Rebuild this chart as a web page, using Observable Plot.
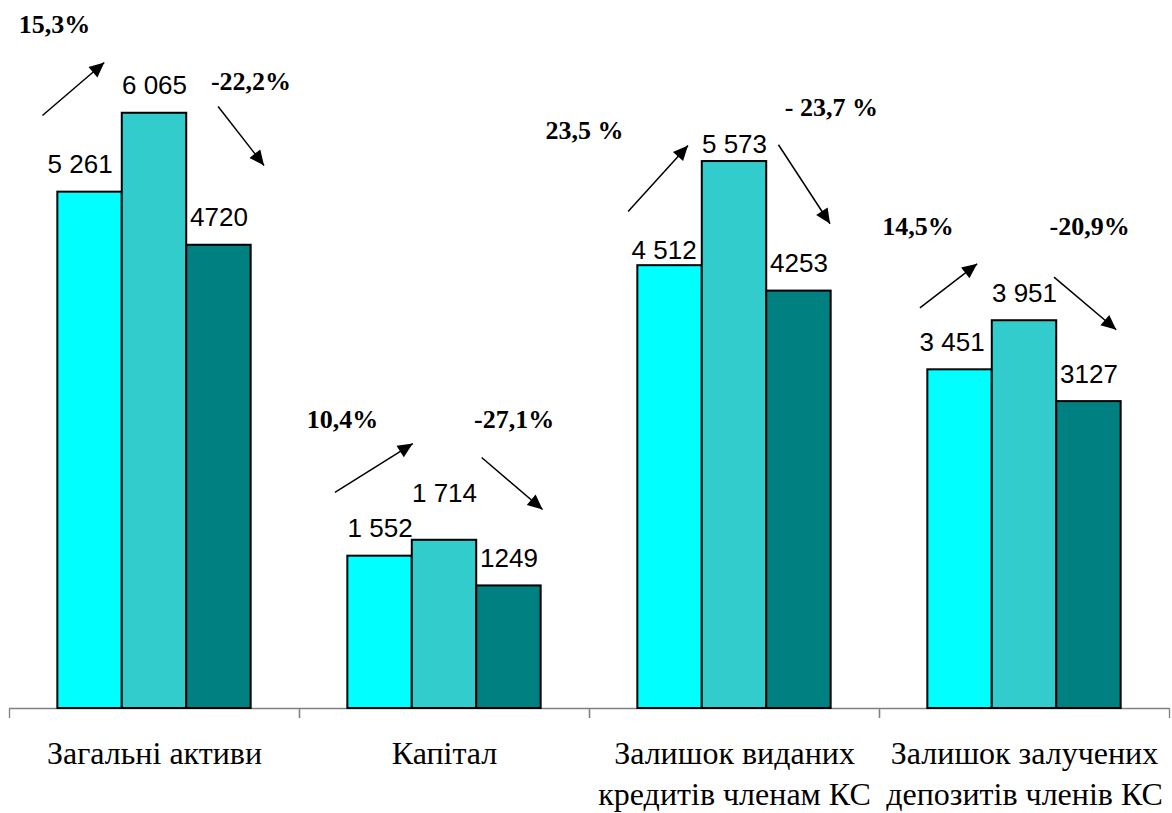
<!DOCTYPE html>
<html>
<head>
<meta charset="utf-8">
<script src="https://cdn.jsdelivr.net/npm/d3@7"></script>
<script src="https://cdn.jsdelivr.net/npm/@observablehq/plot@0.6"></script>
<style>
  html, body { margin: 0; padding: 0; background: #fff; }
  #chart svg { display: block; }
</style>
</head>
<body>
<div id="chart"></div>
<script>
// ---------- data ----------
const categories = [
  "Загальні активи",
  "Капітал",
  "Залишок виданих кредитів членам КС",
  "Залишок залучених депозитів членів КС"
];
const categoryLabels = [
  "Загальні активи",
  "Капітал",
  "Залишок виданих\nкредитів членам КС",
  "Залишок залучених\nдепозитів членів КС"
];
const series = ["Період 1", "Період 2", "Період 3"];
const values1 = [5261, 1552, 4512, 3451];
const values2 = [6065, 1714, 5573, 3951];
const values3 = [4720, 1249, 4253, 3127];
const valueLabels1 = ["5 261", "1 552", "4 512", "3 451"];
const valueLabels2 = ["6 065", "1 714", "5 573", "3 951"];
const valueLabels3 = ["4720", "1249", "4253", "3127"];
const growthLabels = ["15,3%", "10,4%", "23,5 %", "14,5%"];
const declineLabels = ["-22,2%", "-27,1%", "- 23,7 %", "-20,9%"];

// ---------- annotation layout (x in bar-slot units within a group, y in value units) ----------
const upArrows = [[0.511, 6042, 1.471, 6582], [0.550, 2201, 1.758, 2700], [0.599, 5064, 1.529, 5737], [0.627, 4083, 1.515, 4531]];
const downArrows = [[3.237, 6134, 3.950, 5533], [2.827, 2557, 3.772, 2028], [2.932, 5744, 3.733, 4939], [2.708, 4395, 3.674, 3859]];
const growthPos = [[0.697, 6878], [0.669, 2853], [-0.077, 5798], [0.596, 4820]];
const declinePos = [[3.748, 6297], [3.330, 2853], [3.753, 6042], [3.260, 4820]];
// value-label nudges: [series][category], x in slot units, y in value units
const labelShiftX = [[-0.155, 0, -0.093, -0.124], [0, 0, 0, 0], [0, 0, 0, 0]];
const labelShiftY = [[0, 0, -122, 0], [0, 194, -102, 0], [0, 0, 0, 0]];

// ---------- styles ----------
const colors = ["#00FFFF", "#33CCCC", "#008080"];
const slotOffset = 0.75;
const xDomain = [0, series.length + 2 * slotOffset];
const serifFont = "Liberation Serif";
const sansFont = "Liberation Sans";

// ---------- tables built from the arrays ----------
const allValues = [values1, values2, values3];
const allLabels = [valueLabels1, valueLabels2, valueLabels3];
const rows = [];
categories.forEach((c, i) => {
  series.forEach((s, j) => {
    rows.push({
      category: c, series: s, slot: j, value: allValues[j][i], label: allLabels[j][i],
      sx: labelShiftX[j][i], sy: labelShiftY[j][i]
    });
  });
});
const arrowRows = [];
const pctRows = [];
categories.forEach((c, i) => {
  for (const a of [upArrows[i], downArrows[i]]) {
    arrowRows.push({category: c, x1: a[0], y1: a[1], x2: a[2], y2: a[3]});
  }
  pctRows.push({category: c, x: growthPos[i][0], y: growthPos[i][1], text: growthLabels[i]});
  pctRows.push({category: c, x: declinePos[i][0], y: declinePos[i][1], text: declineLabels[i]});
});
const catRows = categories.map((c, i) => ({category: c, label: categoryLabels[i]}));

const plot = Plot.plot({
  width: 1172,
  height: 813,
  marginLeft: 8,
  marginRight: 2,
  marginTop: 21,
  marginBottom: 105,
  style: {background: "#fff", overflow: "visible"},
  fx: {domain: categories, padding: 0, axis: null},
  x: {domain: xDomain, axis: null},
  y: {domain: [0, 7000], axis: null},
  color: {domain: series, range: colors},
  marks: [
    Plot.ruleY([0], {stroke: "#808080", strokeWidth: 1.3}),
    Plot.axisX({ticks: xDomain, tickSize: 10, tickFormat: () => "", stroke: "#808080", strokeWidth: 1.3, label: null}),
    Plot.rectY(rows, {
      fx: "category",
      x1: d => d.slot + slotOffset,
      x2: d => d.slot + slotOffset + 1,
      y: "value",
      fill: "series",
      stroke: "black",
      strokeWidth: 2
    }),
    Plot.text(rows, {
      fx: "category",
      x: d => d.slot + slotOffset + 0.5 + d.sx,
      y: d => d.value + d.sy,
      text: "label",
      lineAnchor: "bottom",
      dy: -19,
      fontSize: 26,
      fontFamily: sansFont,
      fill: "black"
    }),
    Plot.link(arrowRows, {
      fx: "category",
      x1: "x1", y1: "y1", x2: "x2", y2: "y2",
      stroke: "black",
      strokeWidth: 1.5,
      markerEnd: "arrow"
    }),
    Plot.text(pctRows, {
      fx: "category",
      x: "x",
      y: "y",
      text: "text",
      lineAnchor: "bottom",
      fontSize: 26,
      fontWeight: "bold",
      fontFamily: serifFont,
      fill: "black"
    }),
    Plot.text(catRows, {
      fx: "category",
      text: "label",
      frameAnchor: "bottom",
      lineAnchor: "top",
      dy: 26,
      lineHeight: 1.28,
      fontSize: 32,
      fontFamily: serifFont,
      fill: "black"
    })
  ]
});

// filled triangular arrow heads
d3.select(plot).selectAll("marker")
  .attr("viewBox", "-5 -5 10 10")
  .attr("refX", 5)
  .attr("refY", 0)
  .attr("markerWidth", 12)
  .attr("markerHeight", 12)
  .attr("fill", "black")
  .attr("stroke", "none")
  .selectAll("path")
  .attr("d", "M-3.3,-3.8L5,0L-3.3,3.8Z");

document.getElementById("chart").appendChild(plot);
</script>
</body>
</html>
